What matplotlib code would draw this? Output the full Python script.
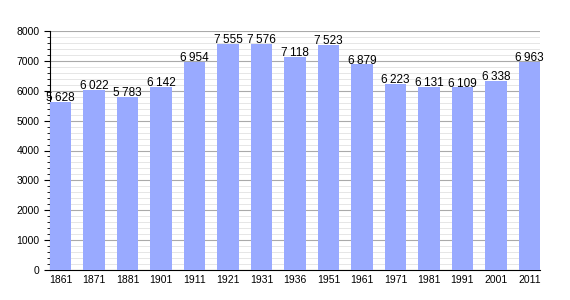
import matplotlib.pyplot as plt
from matplotlib.ticker import MultipleLocator

years = ["1861", "1871", "1881", "1901", "1911", "1921", "1931", "1936",
         "1951", "1961", "1971", "1981", "1991", "2001", "2011"]
population = [5628, 6022, 5783, 6142, 6954, 7555, 7576, 7118,
              7523, 6879, 6223, 6131, 6109, 6338, 6963]

plt.rcParams["font.family"] = ["Liberation Sans", "DejaVu Sans"]

fig = plt.figure(figsize=(5.7, 3), dpi=100)
ax = fig.add_axes([50 / 570, 30 / 300, 490 / 570, 239 / 300])

x = range(len(years))
ax.bar(x, population, width=0.64, color="#99aaff", zorder=3)

for xi, v in zip(x, population):
    label = f"{v:,}".replace(",", "\u2009")
    ax.text(xi, v - 70, label, ha="center", va="bottom", fontsize=8.5,
            zorder=4)

ax.set_xlim(-0.32, len(years) - 0.68)
ax.set_ylim(0, 8000)
ax.set_xticks(list(x))
ax.set_xticklabels(years, fontsize=7.5)
ax.yaxis.set_major_locator(MultipleLocator(1000))
ax.yaxis.set_minor_locator(MultipleLocator(200))
ax.tick_params(axis="y", labelsize=7.5, length=4, width=0.8)
ax.tick_params(axis="y", which="minor", length=2.5, width=0.6)
ax.tick_params(axis="x", length=0)

ax.grid(axis="y", which="major", color="#aaaaaa", linewidth=0.8, zorder=1)
ax.grid(axis="y", which="minor", color="#e2e2e2", linewidth=0.6, zorder=0)

for side in ["top", "right"]:
    ax.spines[side].set_visible(False)

plt.savefig("out.png", dpi=100)
